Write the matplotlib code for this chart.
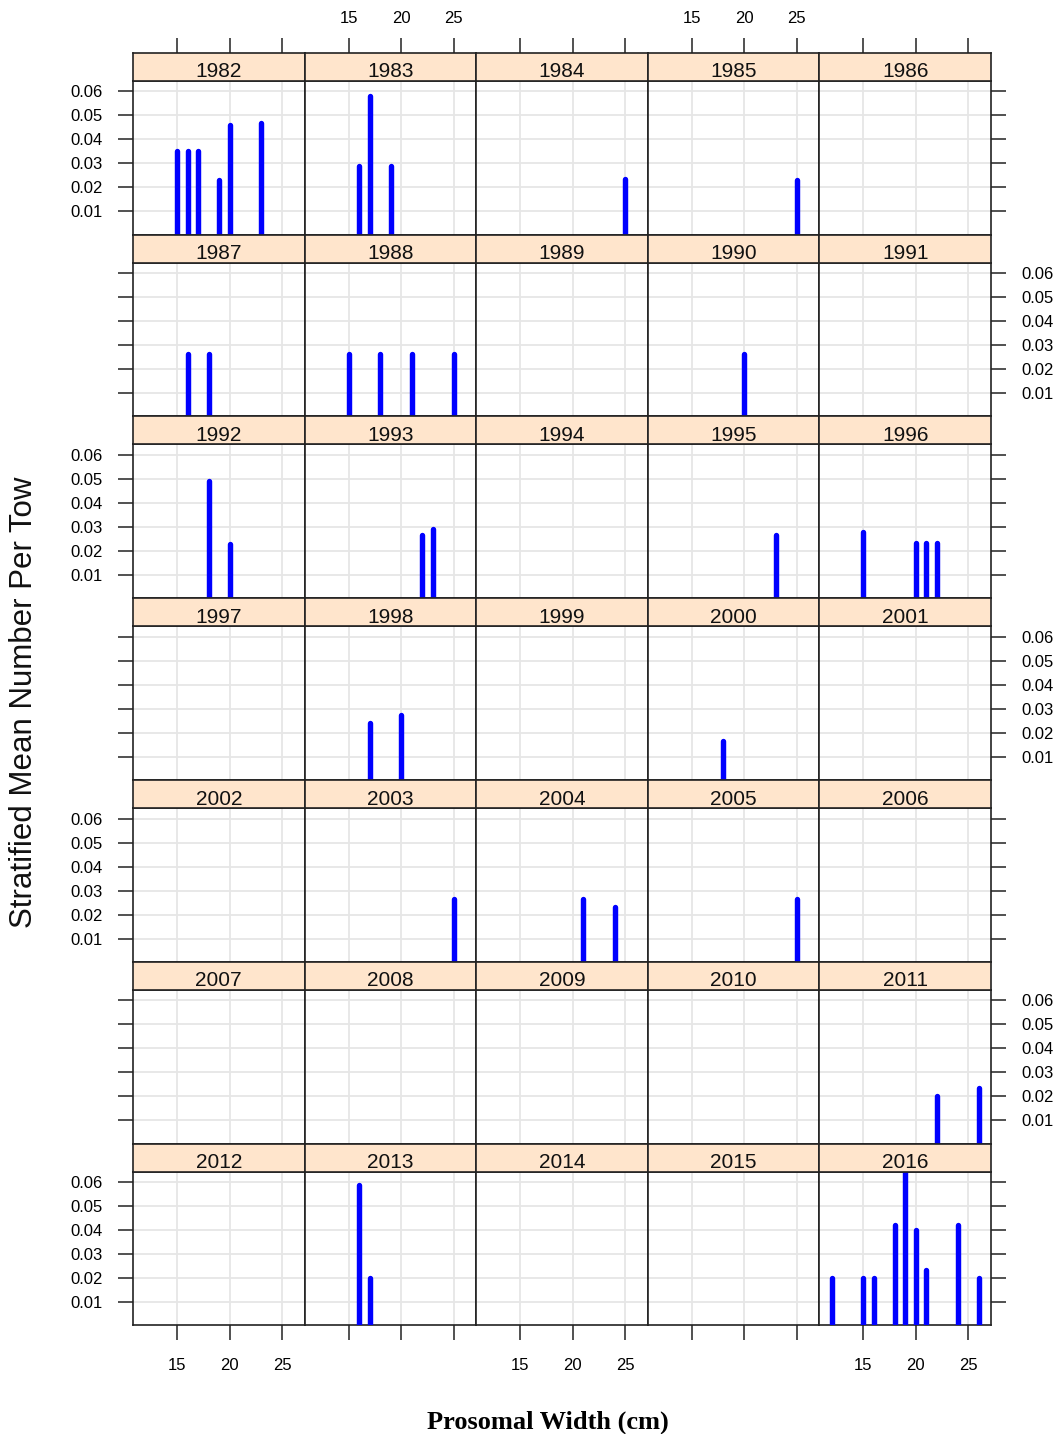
import matplotlib
matplotlib.use("Agg")
import matplotlib.pyplot as plt

# ---------------- data ----------------
years = list(range(1982, 2017))

obs_year = [1982, 1982, 1982, 1982, 1982, 1982,
            1983, 1983, 1983,
            1984,
            1985,
            1987, 1987,
            1988, 1988, 1988, 1988,
            1990,
            1992, 1992,
            1993, 1993,
            1995,
            1996, 1996, 1996, 1996,
            1998, 1998,
            2000,
            2003,
            2004, 2004,
            2005,
            2011, 2011,
            2013, 2013,
            2016, 2016, 2016, 2016, 2016, 2016, 2016, 2016, 2016]

obs_width = [15, 16, 17, 19, 20, 23,
             16, 17, 19,
             25,
             25,
             16, 18,
             15, 18, 21, 25,
             20,
             18, 20,
             22, 23,
             23,
             15, 20, 21, 22,
             17, 20,
             18,
             25,
             21, 24,
             25,
             22, 26,
             16, 17,
             12, 15, 16, 18, 19, 20, 21, 24, 26]

obs_mean = [0.035, 0.035, 0.035, 0.023, 0.046, 0.047,
            0.029, 0.058, 0.029,
            0.0237,
            0.023,
            0.0264, 0.0264,
            0.0264, 0.0264, 0.0264, 0.0264,
            0.0264,
            0.049, 0.023,
            0.0267, 0.029,
            0.0267,
            0.028, 0.0233, 0.0233, 0.0233,
            0.024, 0.0274,
            0.0166,
            0.0266,
            0.0266, 0.0234,
            0.0266,
            0.020, 0.0235,
            0.059, 0.020,
            0.020, 0.020, 0.020, 0.042, 0.068, 0.040, 0.0233, 0.042, 0.020]

x_ticks = [15, 20, 25]
y_ticks = [0.01, 0.02, 0.03, 0.04, 0.05, 0.06]
y_tick_labels = ["0.01", "0.02", "0.03", "0.04", "0.05", "0.06"]

# ---------------- layout ----------------
W, H = 1061, 1434
fig = plt.figure(figsize=(W / 100, H / 100), dpi=100)

ncol, nrow = 5, 7
left0 = 133.0
col_w = 171.6
top0 = 52.7
row_h = 181.8
strip_h = 28.0

xlim = (10.81, 27.15)
ylim = (0.0004, 0.0645)

sans = "Liberation Sans"
tick_fs = 12
strip_fs = 15
tick_len = 10.8
tick_w = 1.2
tick_col = "#333333"
grid_col = "#e6e6e6"
frame_col = "#222222"


def fig_rect(x0, y0_top, w, h):
    return [x0 / W, 1 - (y0_top + h) / H, w / W, h / H]


for i, yr in enumerate(years):
    r, c = divmod(i, ncol)
    x0 = left0 + c * col_w
    rt = top0 + r * row_h

    # panel
    ax = fig.add_axes(fig_rect(x0, rt + strip_h, col_w, row_h - strip_h))
    ax.set_xlim(*xlim)
    ax.set_ylim(*ylim)
    for xv in x_ticks:
        ax.axvline(xv, color=grid_col, lw=1.3, zorder=0)
    for yv in y_ticks:
        ax.axhline(yv, color=grid_col, lw=1.3, zorder=0)
    xs = [w for y, w in zip(obs_year, obs_width) if y == yr]
    vs = [m for y, m in zip(obs_year, obs_mean) if y == yr]
    if xs:
        lc = ax.vlines(xs, 0, vs, colors="#0000ff", lw=3.9, zorder=3)
        lc.set_capstyle("round")
    for s in ax.spines.values():
        s.set_color(frame_col)
        s.set_linewidth(1.2)

    ax.set_xticks(x_ticks)
    ax.set_yticks(y_ticks)
    ax.set_yticklabels(y_tick_labels)
    ax.tick_params(axis="both", which="both", length=tick_len, width=tick_w,
                   color=tick_col, direction="out", labelsize=tick_fs,
                   top=False, bottom=False, left=False, right=False,
                   labeltop=False, labelbottom=False, labelleft=False,
                   labelright=False)
    if r == nrow - 1:
        ax.tick_params(axis="x", bottom=True, labelbottom=(c % 2 == 0), pad=13)
    if c == 0:
        ax.tick_params(axis="y", left=True, labelleft=(r % 2 == 0), pad=11)
    if c == ncol - 1:
        ax.tick_params(axis="y", right=True, labelright=(r % 2 == 1), pad=11)
    for lab in ax.get_xticklabels() + ax.get_yticklabels():
        lab.set_fontfamily(sans)

    # strip
    sx = fig.add_axes(fig_rect(x0, rt, col_w, strip_h))
    sx.set_facecolor("#ffe5cc")
    sx.set_xlim(*xlim)
    sx.set_ylim(0, 1)
    sx.set_yticks([])
    sx.set_xticks(x_ticks)
    sx.tick_params(axis="x", length=tick_len, width=tick_w, color=tick_col,
                   direction="out", labelsize=tick_fs, bottom=False,
                   labelbottom=False, top=(r == 0),
                   labeltop=(r == 0 and c % 2 == 1), pad=8.5)
    for lab in sx.get_xticklabels():
        lab.set_fontfamily(sans)
    for s in sx.spines.values():
        s.set_color(frame_col)
        s.set_linewidth(1.2)
    sx.text(0.5, 0.12, str(yr), transform=sx.transAxes, ha="center",
            va="baseline", fontsize=strip_fs, family=sans, color="#111111")

fig.text(24 / W, 1 - 702 / H, "Stratified Mean Number Per Tow", rotation=90,
         ha="center", va="center", fontsize=22.5, family=sans, color="#111111")
fig.text(547.5 / W, 1 - 1429 / H, "Prosomal Width (cm)", ha="center",
         va="baseline", fontsize=19, family="Liberation Serif",
         fontweight="bold", color="black")

fig.savefig("out.png", dpi=100)
